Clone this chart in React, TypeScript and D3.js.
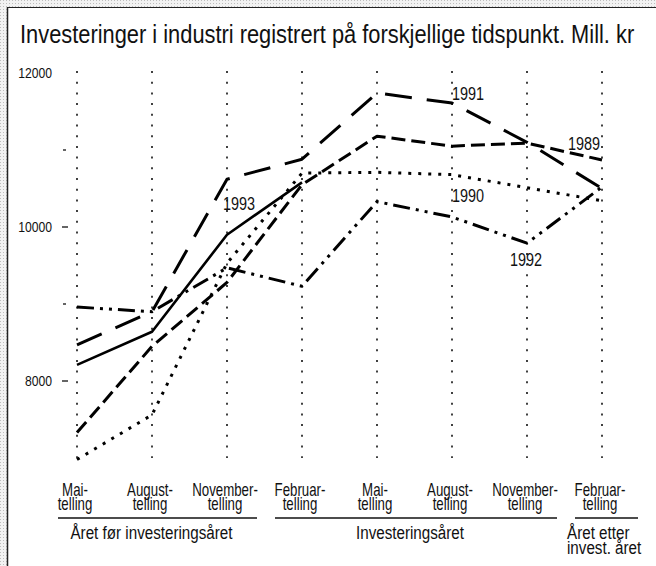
import React, { useLayoutEffect, useRef, useState } from 'react';
import * as d3 from 'd3';

// counting rounds (x axis)
const periodTop = ['Mai-', 'August-', 'November-', 'Februar-', 'Mai-', 'August-', 'November-', 'Februar-'];
const periodBottom = ['telling', 'telling', 'telling', 'telling', 'telling', 'telling', 'telling', 'telling'];

// investment years, values in mill. kr
const years = ['1989', '1990', '1991', '1992', '1993'];
const v1989 = [7330, 8450, 9280, 10550, 11180, 11050, 11090, 10870];
const v1990 = [6980, 7560, 9530, 10700, 10710, 10680, 10510, 10340];
const v1991 = [8470, 8900, 10620, 10880, 11740, 11610, 11100, 10500];
const v1992 = [8960, 8900, 9470, 9230, 10330, 10130, 9790, 10520];
const v1993 = [8210, 8640, 9900, 10580];

const yTickLabels = [8000, 10000, 12000];
const yMinorTicks = [9000, 11000];

const title = 'Investeringer i industri registrert på forskjellige tidspunkt. Mill. kr';

const groups = [
  { lines: ['Året før investeringsåret'], from: 0, to: 2 },
  { lines: ['Investeringsåret'], from: 3, to: 6 },
  { lines: ['Året etter', 'invest. året'], from: 7, to: 7 },
];

const W = 656;
const H = 566;
const font = "'Liberation Sans', Arial, sans-serif";

const x = d3.scalePoint<number>().domain(d3.range(8)).range([77, 602]);
const y = d3.scaleLinear().domain([7000, 12000]).range([458, 73]);

const styles: Record<string, { dash: string; width: number }> = {
  '1989': { dash: '14,6', width: 3 },
  '1990': { dash: '3,7', width: 3 },
  '1991': { dash: '27,15', width: 3 },
  '1992': { dash: '17,6,3,6,3,6', width: 3 },
  '1993': { dash: 'none', width: 2.6 },
};

// where each year label sits relative to one of its points
const notes = [
  { year: '1993', idx: 2, dx: -4, dy: -25, anchor: 'start' },
  { year: '1991', idx: 5, dx: 0, dy: -3, anchor: 'start' },
  { year: '1989', idx: 7, dx: -2, dy: -10, anchor: 'end' },
  { year: '1990', idx: 5, dx: 0, dy: 27, anchor: 'start' },
  { year: '1992', idx: 6, dx: -1, dy: 23, anchor: 'middle' },
];

const series: Record<string, number[]> = {
  '1989': v1989,
  '1990': v1990,
  '1991': v1991,
  '1992': v1992,
  '1993': v1993,
};

// narrow text: the original is set in a condensed grotesque
function NText({ x, y, size, sx = 0.78, anchor = 'start', lines, lead = 14 }: any) {
  return (
    <text transform={`translate(${x},${y}) scale(${sx},1)`} fontSize={size} textAnchor={anchor} fill="#111">
      {lines.map((l: string, j: number) => (
        <tspan key={j} x={0} y={j * lead}>
          {l}
        </tspan>
      ))}
    </text>
  );
}

export default function App() {
  const titleRef = useRef<SVGTextElement>(null);
  const [titleScale, setTitleScale] = useState(0.8);

  useLayoutEffect(() => {
    if (titleRef.current) {
      const w = titleRef.current.getComputedTextLength();
      if (w > 0) setTitleScale(614 / w);
    }
  }, []);

  const line = d3
    .line<number>()
    .x((_, i) => x(i) as number)
    .y((d) => y(d));

  return (
    <svg width={W} height={H} style={{ position: 'absolute', left: 0, top: 0 }} fontFamily={font}>
      <defs>
        <pattern id="stip" width="3" height="3" patternUnits="userSpaceOnUse">
          <rect width="3" height="3" fill="#f2f2f2" />
          <rect width="1" height="1" fill="#bdbdbd" />
        </pattern>
      </defs>
      <rect width={W} height={H} fill="url(#stip)" />
      <rect x={7} y={7} width={W - 7} height={H - 7} fill="#fff" />
      <line x1={7} x2={W} y1={7.5} y2={7.5} stroke="#222" strokeWidth={1.2} />
      <line x1={7.5} x2={7.5} y1={7} y2={H} stroke="#222" strokeWidth={1.5} />

      <text ref={titleRef} transform={`translate(20,43) scale(${titleScale},1)`} fontSize={25} fill="#111">
        {title}
      </text>

      {/* vertical dotted guides */}
      {d3.range(8).map((i) => (
        <line key={i} x1={x(i)} x2={x(i)} y1={y(12000) - 2} y2={y(7000)} stroke="#111" strokeWidth={1.6} strokeDasharray="2,8.7" />
      ))}

      {/* y axis */}
      {yTickLabels.map((t) => (
        <g key={t}>
          <NText x={52} y={y(t) + 5} size={14} sx={0.87} anchor="end" lines={[String(t)]} />
          {t !== 12000 && <line x1={62} x2={68} y1={y(t)} y2={y(t)} stroke="#111" strokeWidth={1.3} />}
        </g>
      ))}
      {yMinorTicks.map((t) => (
        <line key={t} x1={63} x2={66} y1={y(t)} y2={y(t)} stroke="#111" strokeWidth={1.3} />
      ))}

      {/* series */}
      {years.map((yr) => {
        const s = styles[yr];
        return (
          <path
            key={yr}
            d={line(series[yr]) || ''}
            fill="none"
            stroke="#000"
            strokeWidth={s.width}
            strokeDasharray={s.dash}
            strokeLinejoin="round"
          />
        );
      })}

      {notes.map((n) => (
        <NText
          key={n.year}
          x={(x(n.idx) as number) + n.dx}
          y={y(series[n.year][n.idx]) + n.dy}
          anchor={n.anchor}
          size={19}
          sx={0.76}
          lines={[n.year]}
        />
      ))}

      {/* x labels */}
      {d3.range(8).map((i) => (
        <NText
          key={i}
          x={(x(i) as number) - 2}
          y={496}
          size={19}
          sx={0.7}
          anchor="middle"
          lead={14}
          lines={[periodTop[i], periodBottom[i]]}
        />
      ))}

      {/* group underlines and labels */}
      {groups.map((g, k) => {
        const x0 = (x(g.from) as number) - (k === 0 ? 19 : 27);
        const x1 = (x(g.to) as number) + (k === 2 ? 36 : 30);
        const cx = (x0 + x1) / 2 - 6;
        return (
          <g key={k}>
            <line x1={x0} x2={x1} y1={518} y2={518} stroke="#111" strokeWidth={1.4} />
            <NText
              x={k === 2 ? x0 - 8 : cx}
              y={539}
              anchor={k === 2 ? 'start' : 'middle'}
              size={19}
              sx={0.8}
              lead={15}
              lines={g.lines}
            />
          </g>
        );
      })}
    </svg>
  );
}
